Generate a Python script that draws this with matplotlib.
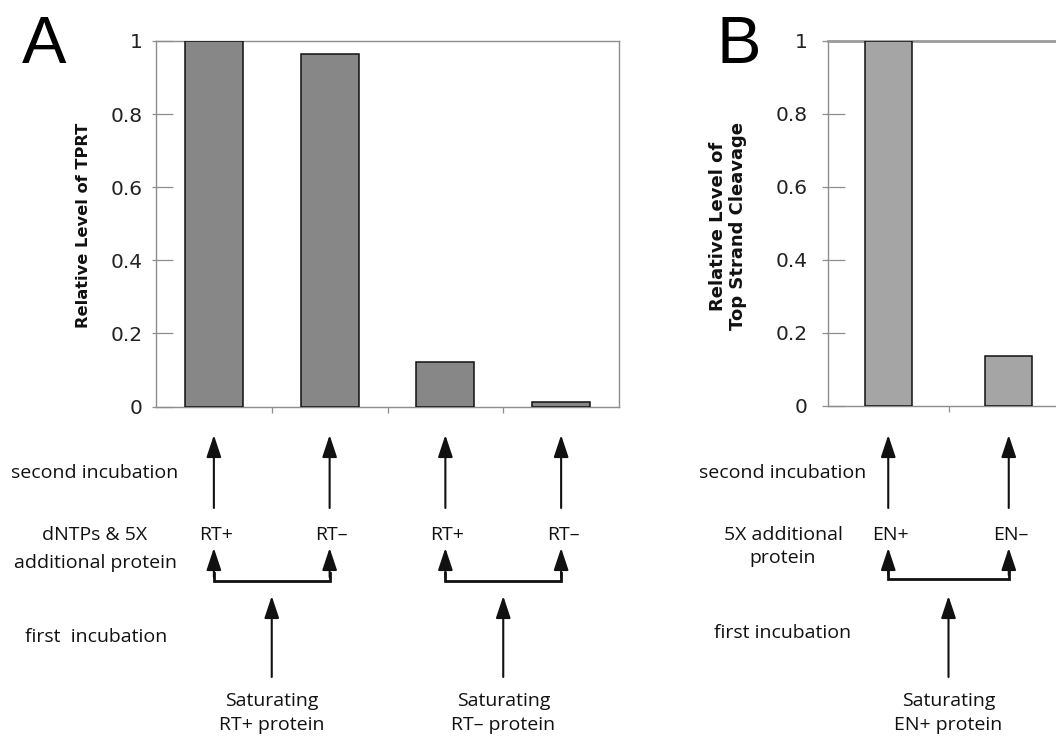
#bar charts of relative TPRT / top strand cleavage with incubation scheme below
import matplotlib.pyplot as plt
from matplotlib.lines import Line2D

# data
a_labels = ["RT+", "RT–", "RT+", "RT–"]
a_values = [1.0, 0.965, 0.123, 0.011]
a_groups = ["Saturating\nRT+ protein", "Saturating\nRT– protein"]

b_labels = ["EN+", "EN–"]
b_values = [1.0, 0.137]
b_groups = ["Saturating\nEN+ protein"]

y_ticks = [0, 0.2, 0.4, 0.6, 0.8, 1]
y_ticklabels = ["0", "0.2", "0.4", "0.6", "0.8", "1"]

W, H = 1056, 736
fig = plt.figure(figsize=(W / 100, H / 100), dpi=100)

def box(left, top, right, bottom):
    return [left / W, (H - bottom) / H, (right - left) / W, (bottom - top) / H]

frame_col = "#8e8e8e"

def setup_axes(ax, n, pad_pt, out_len):
    ax.set_xlim(-0.5, n - 0.5)
    ax.set_ylim(0, 1)
    ax.set_yticks(y_ticks)
    ax.set_yticklabels(y_ticklabels, fontsize=14.5, color="#222222")
    ax.set_yticks(y_ticks, minor=True)
    ax.yaxis.remove_overlapping_locs = False
    ax.tick_params(axis="y", which="major", direction="in", length=12.2,
                   width=0.9, color=frame_col, pad=pad_pt)
    ax.tick_params(axis="y", which="minor", direction="out", length=out_len,
                   width=0.9, color=frame_col)
    ax.set_xticks([i + 0.5 for i in range(n - 1)])
    ax.set_xticklabels([])
    ax.tick_params(axis="x", direction="out", length=4, width=0.9, color=frame_col)
    for s in ax.spines.values():
        s.set_color(frame_col)
        s.set_linewidth(1.0)

# panel A
axA = fig.add_axes(box(156, 41, 619, 406.5))
axA.bar(range(len(a_values)), a_values, width=0.5, color="#878787",
        edgecolor="#111111", linewidth=1.1, zorder=3)
setup_axes(axA, len(a_values), 9.4, 2.9)

# panel B (cut off at the right edge)
axB = fig.add_axes(box(828, 41, 1069, 405.7))
axB.bar(range(len(b_values)), b_values, width=0.39, color="#a5a5a5",
        edgecolor="#111111", linewidth=1.1, zorder=3)
setup_axes(axB, len(b_values), 14.4, 4.3)
axB.spines["top"].set_linewidth(2.0)
axB.spines["top"].set_color("#9a9a9a")

# overlay in pixel coordinates for labels and scheme
ov = fig.add_axes([0, 0, 1, 1], zorder=5)
ov.set_xlim(0, W)
ov.set_ylim(H, 0)
ov.axis("off")

def px(ax, i):
    return ov.transData.inverted().transform(ax.transData.transform((i, 0)))[0]

txt = dict(family="Open Sans", fontsize=14, color="#111111", ha="center", va="center")
ylab = dict(family="DejaVu Sans", fontweight="bold", color="#111111",
            ha="center", va="center", rotation=90)

ov.text(22, 63, "A", fontsize=48, family="Liberation Sans", va="baseline", ha="left")
ov.text(716, 63, "B", fontsize=48, family="Liberation Sans", va="baseline", ha="left")
ov.text(83, 225, "Relative Level of TPRT", fontsize=11.7, **ylab)
ov.text(728, 226, "Relative Level of\nTop Strand Cleavage", fontsize=13,
        linespacing=1.2, **ylab)

arrow = dict(arrowstyle="-|>,head_length=1.35,head_width=0.45", color="#111111",
             lw=1.5, mutation_scale=10, shrinkA=0, shrinkB=0)

def up_arrow(x, y0, y1):
    ov.annotate("", xy=(x, y1), xytext=(x, y0), arrowprops=arrow)

def scheme(ax, labels, groups, bracket_y, label_y):
    xs = [px(ax, i) for i in range(len(labels))]
    for x, lab in zip(xs, labels):
        up_arrow(x, 508, 435)
        ov.text(x + 2, label_y, lab, **txt)
        up_arrow(x, bracket_y - 4, 548)
    for g, grp in enumerate(groups):
        x1, x2 = xs[2 * g], xs[2 * g + 1]
        ov.add_line(Line2D([x1, x1, x2, x2],
                           [bracket_y - 8, bracket_y, bracket_y, bracket_y - 8],
                           color="#111111", lw=2.0, solid_joinstyle="miter"))
        xm = (x1 + x2) / 2
        up_arrow(xm, 677, 596)
        line1, line2 = grp.split("\n")
        ov.text(xm, 701, line1, **txt)
        ov.text(xm, 725, line2, **txt)

scheme(axA, a_labels, a_groups, 581, 535)
scheme(axB, b_labels, b_groups, 579, 535)

ov.text(95, 473, "second incubation", **txt)
ov.text(95, 535, "dNTPs & 5X", **txt)
ov.text(95, 563, "additional protein", **txt)
ov.text(96, 637, "first  incubation", **txt)

ov.text(783, 473, "second incubation", **txt)
ov.text(783, 535, "5X additional", **txt)
ov.text(783, 558, "protein", **txt)
ov.text(783, 633, "first incubation", **txt)

fig.savefig("out.png", dpi=100)
